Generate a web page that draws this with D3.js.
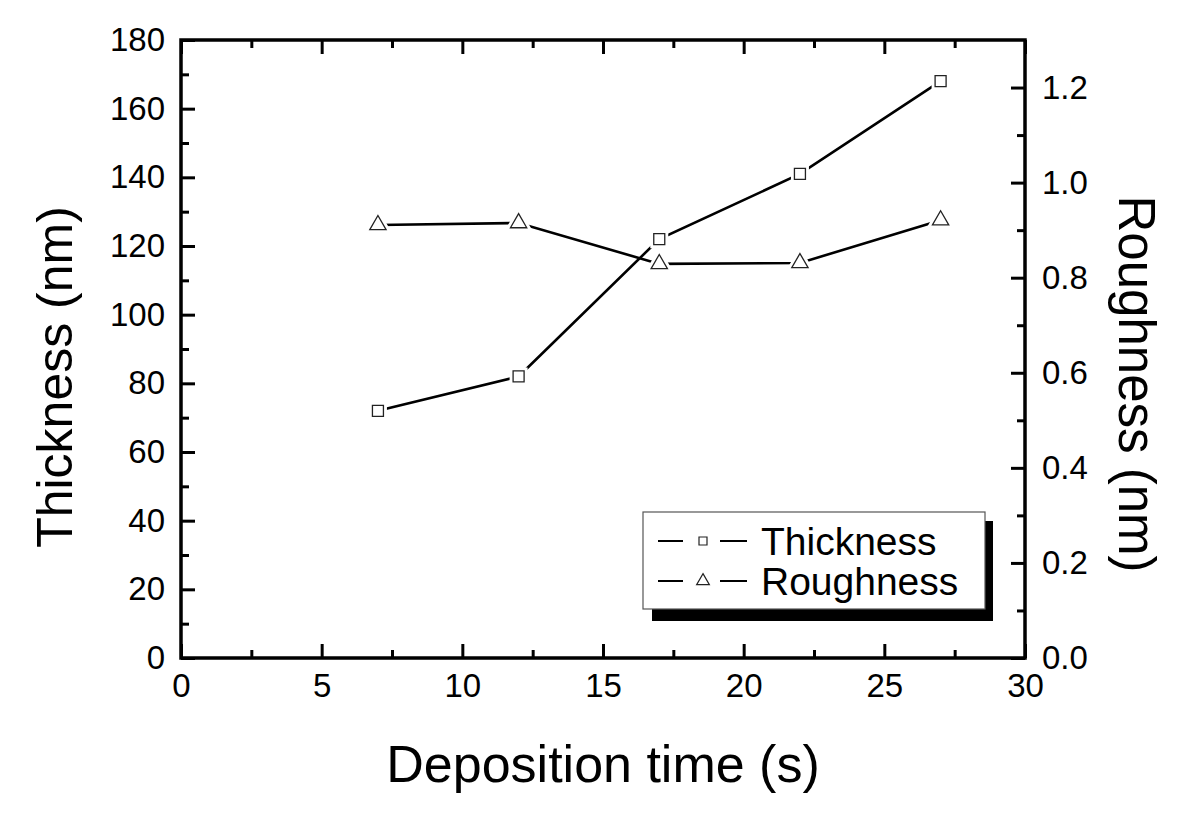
<!DOCTYPE html>
<html><head><meta charset="utf-8">
<script src="https://cdn.jsdelivr.net/npm/d3@7"></script>
<style>
body{margin:0;background:#fff;}
svg text{font-family:Arial,"Liberation Sans",sans-serif;fill:#000;}
</style></head>
<body><svg id="c" width="1200" height="824"></svg>
<script>
const time = [7, 12, 17, 22, 27];
const thickness = [72, 82, 122, 141, 168];
const roughness = [0.911, 0.915, 0.829, 0.831, 0.921];
const xTicks = [0, 5, 10, 15, 20, 25, 30];
const yLeftTicks = [0, 20, 40, 60, 80, 100, 120, 140, 160, 180];
const yRightTicks = [0, 0.2, 0.4, 0.6, 0.8, 1.0, 1.2];
const legendLabels = ["Thickness", "Roughness"];

const svg = d3.select("#c");
const L = 181, R = 1025, T = 40, B = 658;
const x = d3.scaleLinear().domain([0, 30]).range([L, R]);
const yL = d3.scaleLinear().domain([0, 180]).range([B, T]);
const yR = d3.scaleLinear().domain([0, 1.3]).range([B, T]);

const maj = 14, mnr = 8, FS = 33;
function styleAxis(g, fs){
  g.select(".domain").remove();
  g.selectAll(".tick line").attr("stroke","#000").attr("stroke-width",3);
  g.selectAll("text").style("font-size", fs+"px").attr("fill","#000");
}
const xMinor = d3.range(2.5, 30, 5);
const yLMinor = d3.range(10, 180, 20);
const yRMinor = [0.1,0.3,0.5,0.7,0.9,1.1];

svg.append("g").attr("transform",`translate(0,${B})`)
  .call(d3.axisBottom(x).tickValues(xTicks).tickSizeInner(-maj).tickSizeOuter(0).tickPadding(16).tickFormat(d3.format("d")))
  .call(g=>styleAxis(g,FS));
svg.append("g").attr("transform",`translate(0,${B})`)
  .call(d3.axisBottom(x).tickValues(xMinor).tickSizeInner(-mnr).tickSizeOuter(0).tickFormat(""))
  .call(g=>styleAxis(g,FS));
svg.append("g").attr("transform",`translate(0,${T})`)
  .call(d3.axisTop(x).tickValues(xTicks).tickSizeInner(-maj).tickSizeOuter(0).tickFormat(""))
  .call(g=>styleAxis(g,FS));
svg.append("g").attr("transform",`translate(0,${T})`)
  .call(d3.axisTop(x).tickValues(xMinor).tickSizeInner(-mnr).tickSizeOuter(0).tickFormat(""))
  .call(g=>styleAxis(g,FS));
svg.append("g").attr("transform",`translate(${L},0)`)
  .call(d3.axisLeft(yL).tickValues(yLeftTicks).tickSizeInner(-maj).tickSizeOuter(0).tickPadding(16).tickFormat(d3.format("d")))
  .call(g=>styleAxis(g,FS));
svg.append("g").attr("transform",`translate(${L},0)`)
  .call(d3.axisLeft(yL).tickValues(yLMinor).tickSizeInner(-mnr).tickSizeOuter(0).tickFormat(""))
  .call(g=>styleAxis(g,FS));
svg.append("g").attr("transform",`translate(${R},0)`)
  .call(d3.axisRight(yR).tickValues(yRightTicks).tickSizeInner(-maj).tickSizeOuter(0).tickPadding(17).tickFormat(d3.format(".1f")))
  .call(g=>styleAxis(g,FS));
svg.append("g").attr("transform",`translate(${R},0)`)
  .call(d3.axisRight(yR).tickValues(yRMinor).tickSizeInner(-mnr).tickSizeOuter(0).tickFormat(""))
  .call(g=>styleAxis(g,FS));

svg.append("rect").attr("x",L).attr("y",T).attr("width",R-L).attr("height",B-T)
  .attr("fill","none").attr("stroke","#000").attr("stroke-width",3.5);

const sq = d3.symbol().type(d3.symbolSquare).size(121);
const tri = d3.symbol().type(d3.symbolTriangle).size(115);
function series(vals, yS, sym){
  const pts = time.map((t,i)=>[x(t), yS(vals[i])]);
  svg.append("path").attr("d", d3.line()(pts)).attr("fill","none")
    .attr("stroke","#000").attr("stroke-width",2.6);
  const g = svg.append("g");
  g.selectAll("path.halo").data(pts).join("path").attr("class","halo")
    .attr("transform",d=>`translate(${d[0]},${d[1]})`).attr("d",sym)
    .attr("fill","#fff").attr("stroke","#fff").attr("stroke-width",7);
  g.selectAll("path.mk").data(pts).join("path").attr("class","mk")
    .attr("transform",d=>`translate(${d[0]},${d[1]})`).attr("d",sym)
    .attr("fill","#fff").attr("stroke","#222").attr("stroke-width",1.3);
}
series(thickness, yL, sq);
series(roughness, yR, tri);

const lg = svg.append("g");
lg.append("rect").attr("x",652).attr("y",521).attr("width",341).attr("height",100).attr("fill","#000");
lg.append("rect").attr("x",643).attr("y",512).attr("width",342).attr("height",97)
  .attr("fill","#fff").attr("stroke","#555").attr("stroke-width",1.2);
const syms = [d3.symbol().type(d3.symbolSquare).size(64), d3.symbol().type(d3.symbolTriangle).size(70)];
legendLabels.forEach((lab,i)=>{
  const cy = 541 + i*40;
  lg.append("line").attr("x1",658).attr("x2",683).attr("y1",cy).attr("y2",cy).attr("stroke","#000").attr("stroke-width",2);
  lg.append("line").attr("x1",720).attr("x2",747).attr("y1",cy).attr("y2",cy).attr("stroke","#000").attr("stroke-width",2);
  lg.append("path").attr("transform",`translate(703,${cy})`).attr("d",syms[i])
    .attr("fill","#fff").attr("stroke","#222").attr("stroke-width",1.2);
  lg.append("text").attr("x",761).attr("y",cy+14).style("font-size","39px").text(lab);
});

svg.append("text").attr("x",(L+R)/2).attr("y",782).attr("text-anchor","middle")
  .style("font-size","52px").text("Deposition time (s)");
svg.append("text").attr("transform","translate(72,377) rotate(-90)").attr("text-anchor","middle")
  .style("font-size","50px").text("Thickness (nm)");
svg.append("text").attr("transform","translate(1119,384) rotate(90)").attr("text-anchor","middle")
  .style("font-size","51px").text("Roughness (nm)");
</script></body></html>
